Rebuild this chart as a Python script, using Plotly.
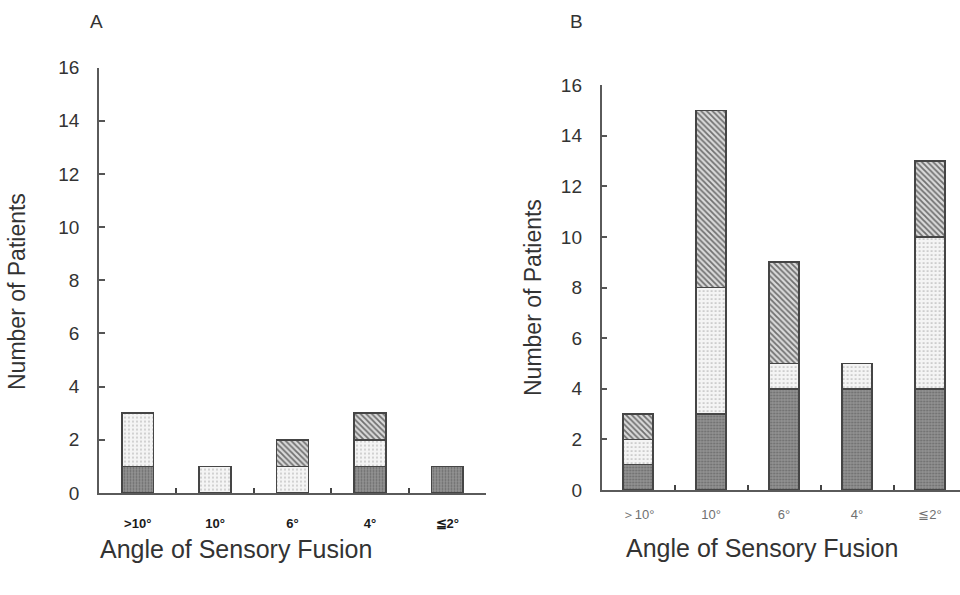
import plotly.graph_objects as go

cats = [0, 1, 2, 3, 4]
labels_a = [">10°", "10°", "6°", "4°", "≦2°"]
labels_b = ["＞10°", "10°", "6°", "4°", "≦2°"]

# Panel A (stack order: dark, dotted, hatched)
a_dark = [1, 0, 0, 1, 1]
a_dotted = [2, 1, 1, 1, 0]
a_hatched = [0, 0, 1, 1, 0]

# Panel B
b_dark = [1, 3, 4, 4, 4]
b_dotted = [1, 5, 1, 1, 6]
b_hatched = [1, 7, 4, 0, 3]

x_title = "Angle of Sensory Fusion"
y_title = "Number of Patients"

FONT = "Liberation Sans, Arial, sans-serif"
W = 0.41
TXT = "#333333"

styles = {
    "dark": dict(color="#8a8a8a", pattern=dict(shape=".", fgcolor="#6a6a6a", bgcolor="#929292", size=3, solidity=0.3)),
    "dotted": dict(color="#efefef", pattern=dict(shape=".", fgcolor="#b0b0b0", bgcolor="#f4f4f4", size=4, solidity=0.15)),
    "hatched": dict(color="#b0b0b0", pattern=dict(shape="\\", fgcolor="#707070", bgcolor="#dadada", size=4, solidity=0.45)),
}

fig = go.Figure()

def add_panel(vals, xa, ya):
    for key, v in zip(["dark", "dotted", "hatched"], vals):
        s = styles[key]
        fig.add_trace(go.Bar(
            x=cats, y=v, width=W, xaxis=xa, yaxis=ya, showlegend=False,
            marker=dict(color=s["color"], pattern=s["pattern"],
                        line=dict(color="#454545", width=1.6)),
        ))

add_panel([a_dark, a_dotted, a_hatched], "x", "y")
add_panel([b_dark, b_dotted, b_hatched], "x2", "y2")

axis_line = dict(showline=True, linecolor="#5a5a5a", linewidth=1.6, showgrid=False,
                 zeroline=False, automargin=False)
minor_x = dict(tickmode="array", tickvals=[0.5, 1.5, 2.5, 3.5], ticks="inside",
               ticklen=5, tickcolor="#444", tickwidth=1.5)

def py(px):
    return 1 - px / 595

fig.update_layout(
    template="none",
    width=960, height=595, barmode="stack",
    margin=dict(l=0, r=0, t=0, b=0, pad=0),
    plot_bgcolor="white", paper_bgcolor="white",
    font=dict(family=FONT, color=TXT),
    xaxis=dict(domain=[99/960, 486/960], range=[-0.5, 4.5], anchor="y",
               tickmode="array", tickvals=cats, ticktext=labels_a, ticks="",
               tickfont=dict(size=13, color="#1a1a1a", weight="bold"),
               minor=minor_x, ticklabelstandoff=18, **axis_line),
    yaxis=dict(domain=[py(493), py(67.5)], range=[0, 16], anchor="x",
               tickvals=list(range(0, 17, 2)), ticks="inside", ticklen=6,
               tickcolor="#555", tickwidth=1.5,
               tickfont=dict(size=19, color=TXT), ticklabelstandoff=14, **axis_line),
    xaxis2=dict(domain=[601.6/960, 1.0], range=[-0.5, 4.41], anchor="y2",
                tickmode="array", tickvals=cats, ticktext=labels_b, ticks="",
                tickfont=dict(size=13, color="#707070"),
                minor=minor_x, ticklabelstandoff=12, **axis_line),
    yaxis2=dict(domain=[py(490), py(85)], range=[0, 16], anchor="x2",
                tickvals=list(range(0, 17, 2)), ticks="inside", ticklen=6,
                tickcolor="#555", tickwidth=1.5,
                tickfont=dict(size=19, color=TXT), ticklabelstandoff=14, **axis_line),
    annotations=[
        dict(text="A", x=96/960, y=py(22)),
        dict(text="B", x=576/960, y=py(22)),
        dict(text=x_title, x=236/960, y=py(549), font=dict(size=25, color=TXT)),
        dict(text=x_title, x=762/960, y=py(548), font=dict(size=25, color=TXT)),
        dict(text=y_title, x=17/960, y=py(292), textangle=-90, font=dict(size=23, color=TXT)),
        dict(text=y_title, x=533/960, y=py(298), textangle=-90, font=dict(size=23, color=TXT)),
    ],
)
for ann in fig.layout.annotations:
    ann.update(xref="paper", yref="paper", showarrow=False, xanchor="center", yanchor="middle")
    if ann.font.size is None:
        ann.font = dict(size=19, color=TXT)

fig.write_html("out.html")
